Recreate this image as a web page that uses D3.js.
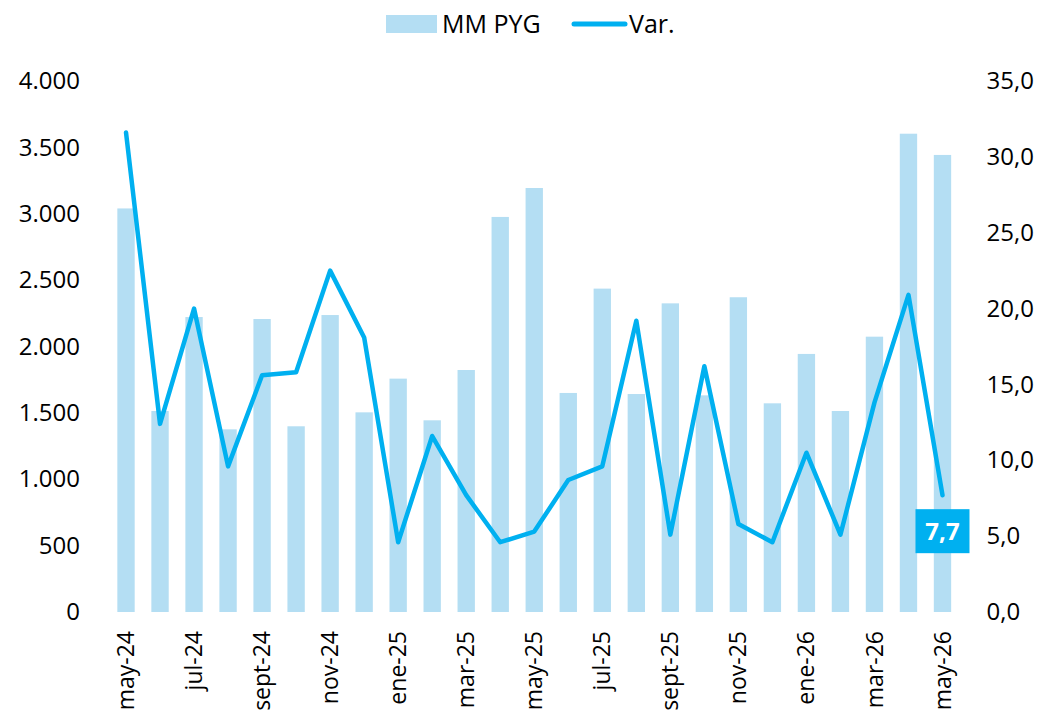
<!DOCTYPE html>
<html>
<head>
<meta charset="utf-8">
<script src="https://cdn.jsdelivr.net/npm/d3@7"></script>
<style>
  body { margin: 0; background: #fff; }
  text { font-family: "Open Sans", sans-serif; fill: #000; }
</style>
</head>
<body>
<script>
var months = ['may-24','jun-24','jul-24','ago-24','sept-24','oct-24','nov-24','dic-24',
              'ene-25','feb-25','mar-25','abr-25','may-25','jun-25','jul-25','ago-25',
              'sept-25','oct-25','nov-25','dic-25','ene-26','feb-26','mar-26','abr-26','may-26'];
var mmPyg = [3040, 1514, 2222, 1376, 2207, 1399, 2237, 1504, 1758, 1444, 1823, 2976,
             3194, 1650, 2436, 1642, 2325, 1632, 2371, 1572, 1944, 1514, 2074, 3603, 3443];
var varPct = [31.6, 12.4, 20.0, 9.6, 15.6, 15.8, 22.5, 18.1, 4.6, 11.6, 7.7, 4.6,
              5.3, 8.7, 9.6, 19.2, 5.1, 16.2, 5.8, 4.6, 10.5, 5.1, 13.8, 20.9, 7.7];
var leftTicks = [0, 500, 1000, 1500, 2000, 2500, 3000, 3500, 4000];
var rightTicks = [0, 5, 10, 15, 20, 25, 30, 35];

var W = 1043, H = 721;
var margin = {top: 81, right: 1043 - 959.5, bottom: 721 - 612, left: 109};

var svg = d3.select('body').append('svg')
    .attr('width', W)
    .attr('height', H);

var x = d3.scaleBand()
    .domain(months)
    .range([margin.left, W - margin.right])
    .paddingInner(0.49)
    .paddingOuter(0.245);

var yL = d3.scaleLinear().domain([0, 4000]).range([H - margin.bottom, margin.top]);
var yR = d3.scaleLinear().domain([0, 35]).range([H - margin.bottom, margin.top]);

var barColor = '#b4def3',
    lineColor = '#00b0f0';

// bars
svg.selectAll('.bar')
    .data(mmPyg)
  .enter().append('rect')
    .attr('class', 'bar')
    .attr('x', function(d, i) { return x(months[i]); })
    .attr('width', x.bandwidth())
    .attr('y', function(d) { return yL(d); })
    .attr('height', function(d) { return yL(0) - yL(d); })
    .style('fill', barColor);

// line
var line = d3.line()
    .x(function(d, i) { return x(months[i]) + x.bandwidth() / 2; })
    .y(function(d) { return yR(d); });

svg.append('path')
    .datum(varPct)
    .attr('d', line)
    .style('fill', 'none')
    .style('stroke', lineColor)
    .style('stroke-width', 4.5)
    .style('stroke-linejoin', 'round')
    .style('stroke-linecap', 'round');

// axes
var fmtL = function(d) { return d3.format(',')(d).replace(/,/g, '.'); };
var fmtR = function(d) { return d3.format('.1f')(d).replace('.', ','); };

var axL = svg.append('g')
    .attr('transform', 'translate(' + (margin.left - 13) + ',0)')
    .call(d3.axisLeft(yL).tickValues(leftTicks).tickFormat(fmtL).tickSize(0).tickPadding(16));
var axR = svg.append('g')
    .attr('transform', 'translate(' + (W - margin.right + 11) + ',0)')
    .call(d3.axisRight(yR).tickValues(rightTicks).tickFormat(fmtR).tickSize(0).tickPadding(16));
var axB = svg.append('g')
    .attr('transform', 'translate(0,' + (H - margin.bottom) + ')')
    .call(d3.axisBottom(x).tickValues(months.filter(function(d, i) { return i % 2 === 0; })).tickSize(0));

[axL, axR, axB].forEach(function(a) {
  a.select('.domain').remove();
  a.selectAll('text').style('font-family', '"Open Sans", sans-serif').style('fill', '#000');
});
axL.selectAll('text').style('font-size', '24px');
axR.selectAll('text').style('font-size', '24px');
axB.selectAll('text')
    .style('font-size', '23px')
    .attr('transform', 'rotate(-90)')
    .attr('x', -19)
    .attr('y', 0)
    .attr('dy', '0.35em')
    .style('text-anchor', 'end');

// last value label
var li = varPct.length - 1;
var lx = x(months[li]) + x.bandwidth() / 2,
    ly = yR(varPct[li]);
var lab = svg.append('g').attr('transform', 'translate(' + lx + ',' + (ly + 36) + ')');
lab.append('rect')
    .attr('x', -27).attr('y', -22)
    .attr('width', 54).attr('height', 44)
    .style('fill', lineColor);
lab.append('text')
    .attr('text-anchor', 'middle')
    .attr('dy', '0.36em')
    .style('font-size', '24px')
    .style('font-weight', 'bold')
    .style('fill', '#fff')
    .text(fmtR(varPct[li]));

// legend
var leg = svg.append('g').attr('transform', 'translate(386,0)');
leg.append('rect')
    .attr('x', 0).attr('y', 15)
    .attr('width', 51).attr('height', 18)
    .style('fill', barColor);
leg.append('text')
    .attr('x', 56).attr('y', 24).attr('dy', '0.35em')
    .style('font-size', '25px')
    .text('MM PYG');
leg.append('line')
    .attr('x1', 188).attr('x2', 239)
    .attr('y1', 24).attr('y2', 24)
    .style('stroke', lineColor)
    .style('stroke-width', 5)
    .style('stroke-linecap', 'round');
leg.append('text')
    .attr('x', 243).attr('y', 24).attr('dy', '0.35em')
    .style('font-size', '25px')
    .text('Var.');
</script>
</body>
</html>
